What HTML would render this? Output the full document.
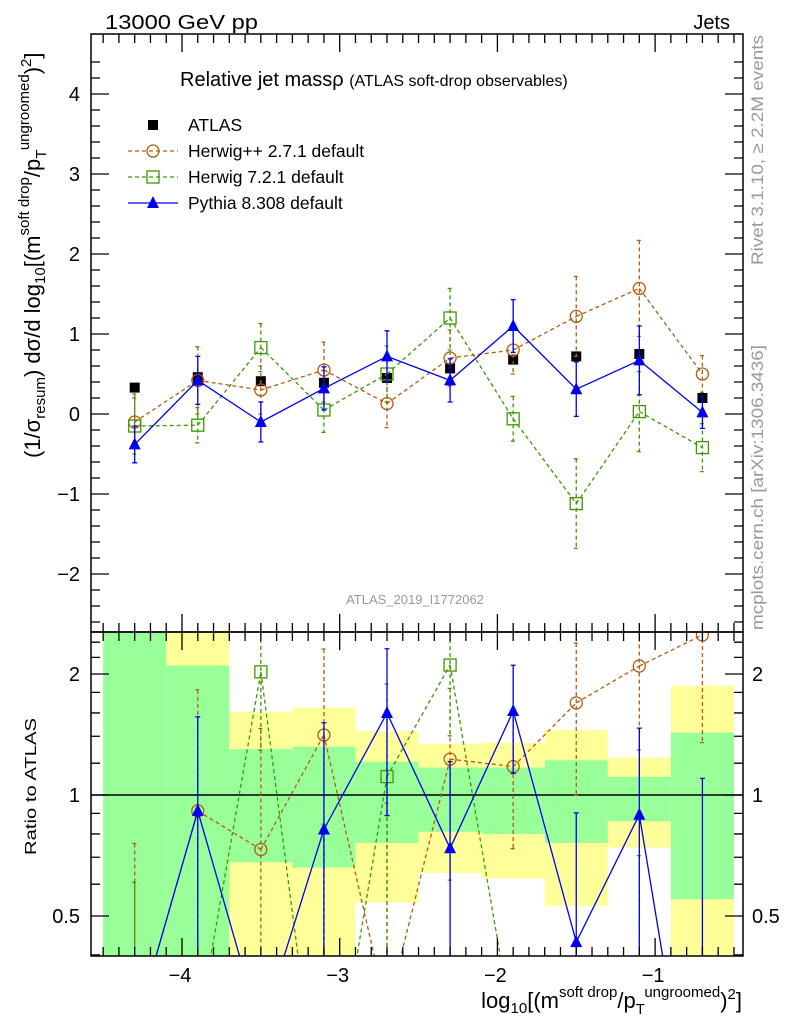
<!DOCTYPE html>
<html><head><meta charset="utf-8"><style>
body{margin:0;background:#fff;overflow:hidden}
svg{font-family:"Liberation Sans",sans-serif;display:block}
</style></head><body>
<svg id="c" width="786" height="1024" viewBox="0 0 786 1024">
<defs>
<clipPath id="clipMain"><rect x="91" y="34" width="652" height="598"/></clipPath>
<clipPath id="clipRatio"><rect x="91" y="632" width="652" height="324"/></clipPath>
</defs>
<g id="bands" clip-path="url(#clipRatio)"></g>
<g id="marksRatio" clip-path="url(#clipRatio)"></g>
<g id="marksMain" clip-path="url(#clipMain)"></g>
<g id="axes"></g>
<text x="105" y="29" font-size="20" textLength="153" lengthAdjust="spacingAndGlyphs">13000 GeV pp</text>
<text x="730" y="29" font-size="20" text-anchor="end">Jets</text>
<text x="180" y="86" font-size="20">Relative jet massρ <tspan font-size="16">(ATLAS soft-drop observables)</tspan></text>
<text x="415" y="604" font-size="13" fill="#999" text-anchor="middle">ATLAS_2019_I1772062</text>
<text transform="translate(763,265) rotate(-90)" font-size="17" fill="#999" textLength="230" lengthAdjust="spacingAndGlyphs">Rivet 3.1.10, ≥ 2.2M events</text>
<text transform="translate(763,630) rotate(-90)" font-size="17" fill="#999" textLength="285" lengthAdjust="spacingAndGlyphs">mcplots.cern.ch [arXiv:1306.3436]</text>
<text transform="translate(40,458) rotate(-90)" font-size="22">(1/σ<tspan font-size="15" dy="5">resum</tspan><tspan dy="-5">) dσ/d log</tspan><tspan font-size="15" dy="5">10</tspan><tspan dy="-5">[(m</tspan><tspan font-size="15" dy="-11">soft drop</tspan><tspan dy="11">/p</tspan><tspan font-size="15" dy="6">T</tspan><tspan font-size="15" dy="-17">ungroomed</tspan><tspan dy="11">)</tspan><tspan font-size="15" dy="-9">2</tspan><tspan dy="9">]</tspan></text>
<text transform="translate(36,855) rotate(-90)" font-size="16" textLength="137" lengthAdjust="spacingAndGlyphs">Ratio to ATLAS</text>
<text x="742" y="1008" font-size="22" text-anchor="end">log<tspan font-size="15" dy="5">10</tspan><tspan dy="-5">[(m</tspan><tspan font-size="15" dy="-11">soft drop</tspan><tspan dy="11">/p</tspan><tspan font-size="15" dy="6">T</tspan><tspan font-size="15" dy="-17">ungroomed</tspan><tspan dy="11">)</tspan><tspan font-size="15" dy="-9">2</tspan><tspan dy="9">]</tspan></text>
<g id="legend"></g>
</svg>
<script>
const binCenters=[-4.3,-3.9,-3.5,-3.1,-2.7,-2.3,-1.9,-1.5,-1.1,-0.7];
const binHalf=0.2;
const atlasVals=[0.33,0.46,0.41,0.39,0.45,0.57,0.68,0.72,0.75,0.2];
const hppVals=[-0.1,0.42,0.3,0.55,0.13,0.7,0.8,1.22,1.57,0.5];
const hppUp=[0.35,0.42,0.3,0.35,0.3,0.35,0.3,0.5,0.6,0.23];
const hppDn=[0.3,0.42,0.3,0.4,0.3,0.35,0.3,0.5,0.6,0.23];
const h7Vals=[-0.15,-0.14,0.83,0.05,0.5,1.2,-0.06,-1.12,0.03,-0.42];
const h7Up=[0.35,0.22,0.3,0.28,0.35,0.37,0.28,0.56,0.5,0.3];
const h7Dn=[0.35,0.22,0.3,0.28,0.35,0.4,0.28,0.56,0.5,0.3];
const pyVals=[-0.38,0.42,-0.1,0.32,0.72,0.42,1.1,0.31,0.67,0.02];
const pyUp=[0.23,0.3,0.25,0.27,0.32,0.27,0.33,0.34,0.43,0.2];
const pyDn=[0.23,0.3,0.25,0.27,0.32,0.27,0.33,0.34,0.43,0.2];
const statLo=[0.2,0.2,0.68,0.66,0.76,0.81,0.80,0.76,0.86,0.55];
const statHi=[3,2.1,1.30,1.32,1.21,1.17,1.17,1.22,1.11,1.43];
const totLo=[0.2,0.2,0.2,0.2,0.54,0.64,0.62,0.53,0.74,0.2];
const totHi=[3,3,1.61,1.65,1.44,1.34,1.35,1.45,1.24,1.87];
const mainTicks=[-2,-1,0,1,2,3,4];
const ratioTicks=[0.5,1,2];
const xTicks=[-4,-3,-2,-1];

const NS="http://www.w3.org/2000/svg";
const L=91,R=743,T=34,M=632,B=956;
const X=v=>182+(v+4)*157.7;
const Y=v=>414-80*v;
const YR=r=>795-121*Math.log2(r);
function mk(p,tag,a){const e=document.createElementNS(NS,tag);for(const k in a)e.setAttribute(k,a[k]);p.appendChild(e);return e;}
const bands=document.getElementById('bands'),mm=document.getElementById('marksMain'),mr=document.getElementById('marksRatio'),ax=document.getElementById('axes'),lg=document.getElementById('legend');

binCenters.forEach((c,i)=>{
 const x0=X(c-binHalf),x1=X(c+binHalf);
 const th=Math.max(YR(totHi[i]),M),tl=Math.min(YR(totLo[i]),B);
 let r=mk(bands,'rect',{x:x0,y:th,width:x1-x0,height:tl-th,fill:'#ffff99'});
 
 
 const sh=Math.max(YR(statHi[i]),M),sl=Math.min(YR(statLo[i]),B);
 r=mk(bands,'rect',{x:x0,y:sh,width:x1-x0,height:sl-sh,fill:'#99ff99'});
 
 
});
let ln=mk(bands,'line',{x1:L,x2:R,y1:YR(1),y2:YR(1),stroke:'#000','stroke-width':1.5});



function marker(g,kind,x,y,col){
 let e;
 if(kind==='sq')e=mk(g,'rect',{x:x-5,y:y-5,width:10,height:10,fill:'#000'});
 else if(kind==='circ')e=mk(g,'circle',{cx:x,cy:y,r:6,fill:'none',stroke:col,'stroke-width':1.3});
 else if(kind==='osq')e=mk(g,'rect',{x:x-6,y:y-6,width:12,height:12,fill:'none',stroke:col,'stroke-width':1.3});
 else e=mk(g,'path',{d:`M${x},${y-7}L${x+6},${y+5}L${x-6},${y+5}Z`,fill:col});
 return e;
}
const YMAX=960;
function clipSeg(a,b){
 if(a[1]>YMAX&&b[1]>YMAX)return null;
 const f=(p,q)=>{if(q[1]<=YMAX)return q;const t=(YMAX-p[1])/(q[1]-p[1]);return [p[0]+t*(q[0]-p[0]),YMAX];};
 return [f(b,a),f(a,b)];
}
function series(g,Yf,vals,up,dn,col,dash,kind,name){
 const pts=binCenters.map((c,i)=>[X(c),Yf(vals[i])]);
 if(kind!=='sq'){
  let d='';
  for(let i=0;i<pts.length-1;i++){const s=clipSeg(pts[i],pts[i+1]);if(s)d+=`M${s[0][0].toFixed(1)},${s[0][1].toFixed(1)}L${s[1][0].toFixed(1)},${s[1][1].toFixed(1)}`;}
  const pl=mk(g,'path',{d:d,fill:'none',stroke:col,'stroke-width':1.3,'stroke-dasharray':dash});
  
  
 }
 binCenters.forEach((c,i)=>{
  const x=X(c),yc=Yf(vals[i]);
  if(up){
   const y1=Math.min(Yf(vals[i]+up[i]),YMAX),y2=Math.min(Yf(vals[i]-dn[i]),YMAX);
   if(y1<YMAX){
   const eb=mk(g,'path',{d:`M${x},${y1}L${x},${y2}M${x-2.5},${y1}L${x+2.5},${y1}M${x-2.5},${y2}L${x+2.5},${y2}`,stroke:col,'stroke-width':1.3,fill:'none','stroke-dasharray':dash});
   
   
   }
  }
  if(yc<YMAX){
   const m=marker(g,kind,x,yc,col);
   
   
  }
 });
}
const HC='#b35c0f',GC='#3a9a00',BC='#0000ee';
series(mm,Y,atlasVals,null,null,'#000','','sq','atlas');
series(mm,Y,hppVals,hppUp,hppDn,HC,'4,3','circ','herwigpp');
series(mm,Y,h7Vals,h7Up,h7Dn,GC,'4,3','osq','herwig7');
series(mm,Y,pyVals,pyUp,pyDn,BC,'','tri','pythia');
const YRs=v=>v>0?YR(v):YR(0.26);
function rat(v){return v.map((x,i)=>x/atlasVals[i]);}
function ratE(e){return e.map((x,i)=>x/atlasVals[i]);}
series(mr,YRs,rat(hppVals),ratE(hppUp),ratE(hppDn),HC,'4,3','circ','herwigpp-ratio');
series(mr,YRs,rat(h7Vals),ratE(h7Up),ratE(h7Dn),GC,'4,3','osq','herwig7-ratio');
series(mr,YRs,rat(pyVals),ratE(pyUp),ratE(pyDn),BC,'','tri','pythia-ratio');

mk(ax,'rect',{x:L,y:T,width:R-L,height:M-T,fill:'none',stroke:'#000','stroke-width':1.5});
mk(ax,'rect',{x:L,y:M,width:R-L,height:B-M,fill:'none',stroke:'#000','stroke-width':1.5});
let d='';
for(let v=-4.5;v<=-0.45;v+=0.1){const x=X(v),maj=Math.abs(v-Math.round(v))<0.01;const l=maj?18:9;
 d+=`M${x},${T}v${l}M${x},${M}v${-l}M${x},${M}v${l}M${x},${B}v${-l}`;}
for(let v=-2.6;v<=4.6;v+=0.2){const y=Y(v),maj=Math.abs(v-Math.round(v))<0.01;const l=maj?18:9;
 if(y>T&&y<M)d+=`M${L},${y}h${l}M${R},${y}h${-l}`;}
[0.4,0.5,0.6,0.7,0.8,0.9,1,1.2,1.4,1.6,1.8,2,2.2,2.4].forEach(r=>{const y=YR(r);const l=ratioTicks.includes(r)?18:9;if(y>M&&y<B)d+=`M${L},${y}h${l}M${R},${y}h${-l}`;});
mk(ax,'path',{d:d,stroke:'#000','stroke-width':1.3,fill:'none'});
mainTicks.forEach(v=>{const t=mk(ax,'text',{x:80,y:Y(v)+7,'font-size':20,'text-anchor':'end'});t.textContent=v<0?'−'+(-v):String(v);
 
 });
ratioTicks.forEach(v=>{[[80,'end'],[752,'start']].forEach(([x,a])=>{const t=mk(ax,'text',{x:x,y:YR(v)+7,'font-size':20,'text-anchor':a});t.textContent=String(v);
 
 });});
xTicks.forEach(v=>{const t=mk(ax,'text',{x:X(v)-2,y:982,'font-size':20,'text-anchor':'middle'});t.textContent='−'+(-v);
 
 });

const leg=[['ATLAS','#000','','sq'],['Herwig++ 2.7.1 default',HC,'4,3','circ'],['Herwig 7.2.1 default',GC,'4,3','osq'],['Pythia 8.308 default',BC,'','tri']];
leg.forEach((e,i)=>{const y=125+i*26;
 if(e[3]!=='sq'){const l=mk(lg,'line',{x1:128,x2:178,y1:y,y2:y,stroke:e[1],'stroke-width':1.3,'stroke-dasharray':e[2]});
  
  }
 const m=marker(lg,e[3],153,y,e[1]);
 
 
 const t=mk(lg,'text',{x:188,y:y+6,'font-size':17.5});t.textContent=e[0];
 
 
});
</script>
</body></html>
